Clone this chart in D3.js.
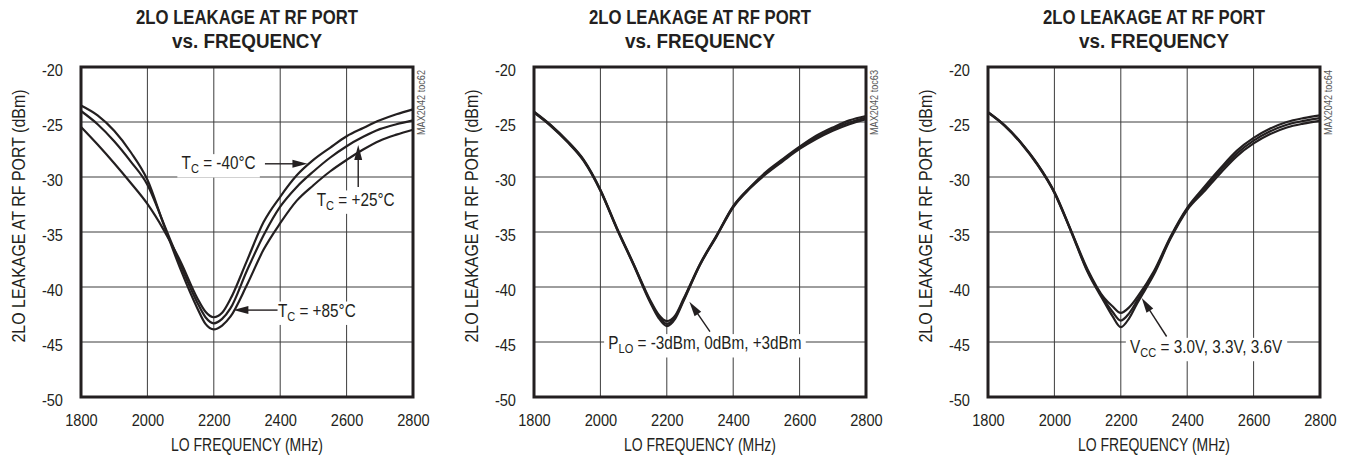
<!DOCTYPE html>
<html><head><meta charset="utf-8">
<script src="https://cdn.jsdelivr.net/npm/d3@7"></script>
<style>
html,body{margin:0;padding:0;background:#fff;}
svg{display:block;}
text{font-family:'Liberation Sans',Arial,sans-serif;fill:#231f20;}
</style></head><body>
<svg id="chart" width="1349" height="460"></svg>
<script>
// ---------- DATA ----------
const titleLine1 = "2LO LEAKAGE AT RF PORT";
const titleLine2 = "vs. FREQUENCY";
const xLabel = "LO FREQUENCY (MHz)";
const yLabel = "2LO LEAKAGE AT RF PORT (dBm)";
const xTicks = [1800, 2000, 2200, 2400, 2600, 2800];
const yTicks = [-20, -25, -30, -35, -40, -45, -50];
const chartCodes = ["MAX2042 toc62", "MAX2042 toc63", "MAX2042 toc64"];

const freqMHz = [1800,1850,1900,1950,2000,2050,2100,2150,2175,2200,2225,2250,2300,2350,2400,2450,2500,2550,2600,2650,2700,2750,2800];

// Panel 1: temperature
const tcMinus40 = [-25.45,-27.05,-28.75,-30.55,-32.45,-34.85,-37.7,-41.0,-42.25,-42.75,-42.35,-41.1,-37.6,-34.1,-31.8,-29.85,-28.45,-27.35,-26.3,-25.55,-24.85,-24.3,-23.85];
const tcPlus25  = [-24.0,-25.2,-26.75,-28.6,-30.7,-34.3,-38.0,-41.4,-42.75,-43.3,-42.9,-41.95,-38.5,-35.3,-32.7,-30.9,-29.5,-28.25,-27.2,-26.35,-25.65,-25.2,-24.85];
const tcPlus85  = [-23.5,-24.4,-25.8,-27.75,-30.25,-34.4,-38.4,-41.9,-43.35,-43.85,-43.5,-42.7,-39.8,-36.6,-34.2,-32.15,-30.75,-29.5,-28.45,-27.5,-26.7,-26.15,-25.7];

// Panel 2: LO power
const pLoMinus3 = [-24.05,-25.25,-26.7,-28.45,-31.15,-34.65,-37.9,-41.2,-42.5,-43.1,-42.6,-41.1,-37.9,-35.3,-32.65,-30.95,-29.5,-28.35,-27.25,-26.25,-25.5,-24.85,-24.45];
const pLo0      = [-24.1,-25.3,-26.75,-28.5,-31.2,-34.7,-37.95,-41.3,-42.65,-43.35,-42.75,-41.2,-37.95,-35.35,-32.7,-31.0,-29.6,-28.45,-27.35,-26.4,-25.65,-25.05,-24.6];
const pLoPlus3  = [-24.15,-25.35,-26.8,-28.55,-31.25,-34.75,-38.0,-41.4,-42.8,-43.55,-42.9,-41.3,-38.0,-35.4,-32.75,-31.05,-29.7,-28.55,-27.45,-26.55,-25.8,-25.2,-24.75];

// Panel 3: supply voltage
const vcc30 = [-24.1,-25.3,-26.9,-28.85,-31.35,-34.85,-38.4,-41.0,-41.75,-42.35,-41.85,-40.9,-38.55,-35.4,-32.8,-30.95,-29.2,-27.6,-26.45,-25.6,-25.0,-24.65,-24.4];
const vcc33 = [-24.1,-25.3,-26.9,-28.9,-31.4,-34.9,-38.55,-41.2,-42.25,-43.05,-42.4,-41.2,-38.7,-35.5,-32.9,-31.15,-29.4,-27.85,-26.7,-25.85,-25.25,-24.9,-24.65];
const vcc36 = [-24.15,-25.35,-26.95,-28.95,-31.45,-34.95,-38.65,-41.35,-42.65,-43.65,-42.85,-41.45,-38.85,-35.6,-33.0,-31.35,-29.65,-28.1,-26.95,-26.1,-25.5,-25.15,-24.9];

// Annotations (text anchor and arrow in data units: MHz, dBm)
const notesTemp = [
  {main:"T", sub:"C", rest:" = -40°C", tx:2103, ty:-29.3, a:[2354,-28.8,2482,-28.8]},
  {main:"T", sub:"C", rest:" = +25°C", tx:2510, ty:-32.6, a:[2635,-30.9,2635,-27.1]},
  {main:"T", sub:"C", rest:" = +85°C", tx:2393, ty:-42.7, a:[2392,-42.1,2259,-42.1]}
];
const notesPlo = [
  {main:"P", sub:"LO", rest:" = -3dBm, 0dBm, +3dBm", tx:2024, ty:-45.66, a:[2330,-44.06,2268,-41.34]}
];
const notesVcc = [
  {main:"V", sub:"CC", rest:" = 3.0V, 3.3V, 3.6V", tx:2228, ty:-46.0, a:[2338,-44.5,2263,-41.0]}
];

// ---------- LAYOUT ----------
const panels = [
  {left:81,  series:[tcMinus40,tcPlus25,tcPlus85], notes:notesTemp, code:chartCodes[0]},
  {left:534, series:[pLoMinus3,pLo0,pLoPlus3],     notes:notesPlo,  code:chartCodes[1]},
  {left:988, series:[vcc30,vcc33,vcc36],           notes:notesVcc,  code:chartCodes[2]}
];
const plotW = 332, plotTop = 67, plotH = 330;
const ink = "#231f20";
const svg = d3.select("#chart");

function drawArrow(g, x1, y1, x2, y2){
  const dx = x2-x1, dy = y2-y1, len = Math.hypot(dx,dy), ux = dx/len, uy = dy/len;
  const hl = 15, hw = 4;
  const bx = x2-ux*hl, by = y2-uy*hl;
  g.append("line").attr("x1",x1).attr("y1",y1).attr("x2",bx+ux*2).attr("y2",by+uy*2)
    .attr("stroke",ink).attr("stroke-width",1.4);
  g.append("path").attr("d",`M${x2},${y2}L${bx-uy*hw},${by+ux*hw}L${bx+uy*hw},${by-ux*hw}Z`)
    .attr("fill",ink);
}
function fitText(sel, w){
  sel.attr("textLength", w).attr("lengthAdjust","spacingAndGlyphs");
}
function condenseTicks(axisSel, k){
  axisSel.selectAll("text").each(function(){
    const t = d3.select(this);
    const x0 = +t.attr("x") || 0, y0 = +t.attr("y") || 0;
    t.attr("x",0).attr("y",0).attr("transform",`translate(${x0},${y0}) scale(${k},1)`);
  });
}

panels.forEach(p => {
  const x = d3.scaleLinear().domain([1800,2800]).range([p.left, p.left+plotW]);
  const y = d3.scaleLinear().domain([-50,-20]).range([plotTop+plotH, plotTop]);
  const g = svg.append("g");
  const cx = p.left + plotW/2;

  // titles
  g.append("text").attr("x",cx).attr("y",24).attr("text-anchor","middle")
    .attr("font-size",20).attr("font-weight","bold").text(titleLine1).call(fitText,222);
  g.append("text").attr("x",cx).attr("y",48).attr("text-anchor","middle")
    .attr("font-size",20).attr("font-weight","bold").text(titleLine2).call(fitText,150);

  // grid
  const grid = g.append("g");
  grid.selectAll("line.v").data(xTicks).join("line").attr("class","v")
    .attr("x1",d=>x(d)).attr("x2",d=>x(d)).attr("y1",plotTop).attr("y2",plotTop+plotH)
    .attr("stroke","#3c3c3c").attr("stroke-width",1);
  grid.selectAll("line.h").data(yTicks).join("line").attr("class","h")
    .attr("x1",p.left).attr("x2",p.left+plotW).attr("y1",d=>y(d)).attr("y2",d=>y(d))
    .attr("stroke","#3c3c3c").attr("stroke-width",1);

  // axes (labels only)
  const xa = g.append("g").attr("transform",`translate(0,${plotTop+plotH})`)
    .call(d3.axisBottom(x).tickValues(xTicks).tickSize(0).tickPadding(17).tickFormat(d=>String(d)));
  const ya = g.append("g").attr("transform",`translate(${p.left},0)`)
    .call(d3.axisLeft(y).tickValues(yTicks).tickSize(0).tickPadding(18).tickFormat(d=>String(d)));
  [xa,ya].forEach(a => {
    a.select(".domain").remove();
    a.selectAll("text").attr("font-size",17).attr("fill",ink)
      .attr("font-family","'Liberation Sans',Arial,sans-serif");
  });
  ya.selectAll("text").attr("dy","0.5em");
  condenseTicks(xa, 0.86);
  condenseTicks(ya, 0.86);

  // axis titles
  g.append("text").attr("x",cx).attr("y",451).attr("text-anchor","middle")
    .attr("font-size",18).text(xLabel).call(fitText,152);
  g.append("text").attr("transform",`translate(${p.left-56},216) rotate(-90)`)
    .attr("text-anchor","middle").attr("font-size",18.5).text(yLabel).call(fitText,253);

  // chart code
  g.append("text").attr("transform",`translate(${p.left+plotW+12},70) rotate(-90)`)
    .attr("text-anchor","end").attr("font-size",10).style("fill","#555").text(p.code).call(fitText,65);

  // annotation texts with white backing
  p.notes.forEach(n => {
    const ag = g.append("g").attr("transform",`translate(${x(n.tx)},${y(n.ty)}) scale(0.85,1)`);
    const t = ag.append("text").attr("x",0).attr("y",0).attr("font-size",18);
    t.append("tspan").text(n.main);
    t.append("tspan").attr("font-size",13).attr("dy",4).text(n.sub);
    t.append("tspan").attr("dy",-4).text(n.rest);
    const bb = t.node().getBBox();
    ag.insert("rect", () => t.node())
      .attr("x",bb.x-5).attr("y",bb.y+1).attr("width",bb.width+10).attr("height",bb.height)
      .attr("fill","#fff");
  });

  // curves
  const line = d3.line().x(d=>x(d[0])).y(d=>y(d[1])).curve(d3.curveMonotoneX);
  p.series.forEach(s => {
    g.append("path").datum(freqMHz.map((f,i)=>[f,s[i]])).attr("d",line)
      .attr("fill","none").attr("stroke",ink).attr("stroke-width",2.2).attr("stroke-linejoin","round");
  });

  // arrows
  p.notes.forEach(n => drawArrow(g, x(n.a[0]), y(n.a[1]), x(n.a[2]), y(n.a[3])));

  // frame
  g.append("rect").attr("x",p.left).attr("y",plotTop).attr("width",plotW).attr("height",plotH)
    .attr("fill","none").attr("stroke",ink).attr("stroke-width",3);
});
</script>
</body></html>
